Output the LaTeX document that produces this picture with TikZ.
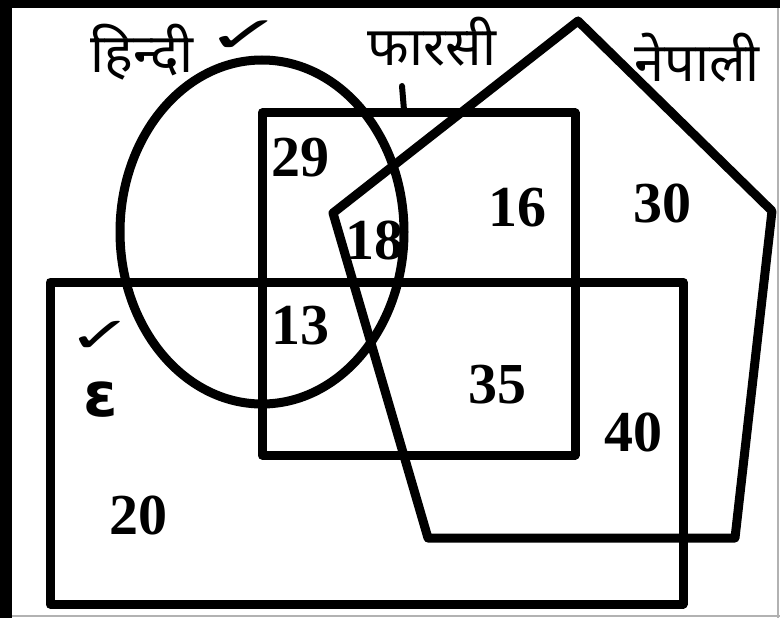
\documentclass[tikz,border=0pt]{standalone}
\usepackage{fontspec}
\setmainfont{Liberation Serif}
\newfontfamily\deva[Script=Devanagari]{Noto Sans}
\newfontfamily\dejavu{DejaVu Sans}
\begin{document}
\begin{tikzpicture}[x=1pt,y=-1pt,
  shape line/.style={line width=9pt, line join=round, line cap=round},
  num/.style={font=\bfseries\fontsize{58}{58}\selectfont, inner sep=0pt},
  hand/.style={font=\deva\bfseries\fontsize{54}{54}\selectfont, inner sep=0pt},
  tickmark/.style={font=\dejavu\bfseries\fontsize{#1}{#1}\selectfont, inner sep=0pt}]
\useasboundingbox (0,0) rectangle (780,618);
\fill[white] (0,0) rectangle (780,618);
% frame
\fill[black] (0,0) rectangle (780,8);
\fill[black] (0,0) rectangle (12,618);
\draw[gray!60, line width=1.5pt] (778,8) -- (778,618);
\draw[gray!60, line width=1.5pt] (12,616) -- (780,616);
% sets
\draw[shape line] (262,232) ellipse [x radius=142pt, y radius=172pt];
\draw[shape line] (262,113) rectangle (575,455);
\draw[shape line] (333,213) -- (578,21) -- (772,211) -- (735,538) -- (428,538) -- cycle;
\draw[shape line] (50,282) rectangle (683,604);
% pointer stroke below label
\draw[line width=6pt, line cap=round] (402,86) -- (404,110);
% labels
\node[hand] (hindi) at (142,52) {हिन्दी};
\node[tickmark=72] (tick1) at (245,37) {\scalebox{1.3}[0.7]{✓}};
\node[hand] (farsi) at (432,42) {फारसी};
\node[hand] (nepali) at (697,58) {नेपाली};
\node[tickmark=66] (tick2) at (101,337) {\scalebox{1.2}[0.75]{✓}};
\node[font=\dejavu\bfseries\fontsize{62}{62}\selectfont, inner sep=0pt] (eps) at (101,400) {ε};
% numbers
\node[num] (n29) at (300,158) {29};
\node[num] (n18) at (374,240) {18};
\node[num] (n16) at (517,208) {16};
\node[num] (n30) at (662,203) {30};
\node[num] (n13) at (300,326) {13};
\node[num] (n35) at (497,385) {35};
\node[num] (n40) at (633,432) {40};
\node[num] (n20) at (138,515) {20};
\end{tikzpicture}
\end{document}
